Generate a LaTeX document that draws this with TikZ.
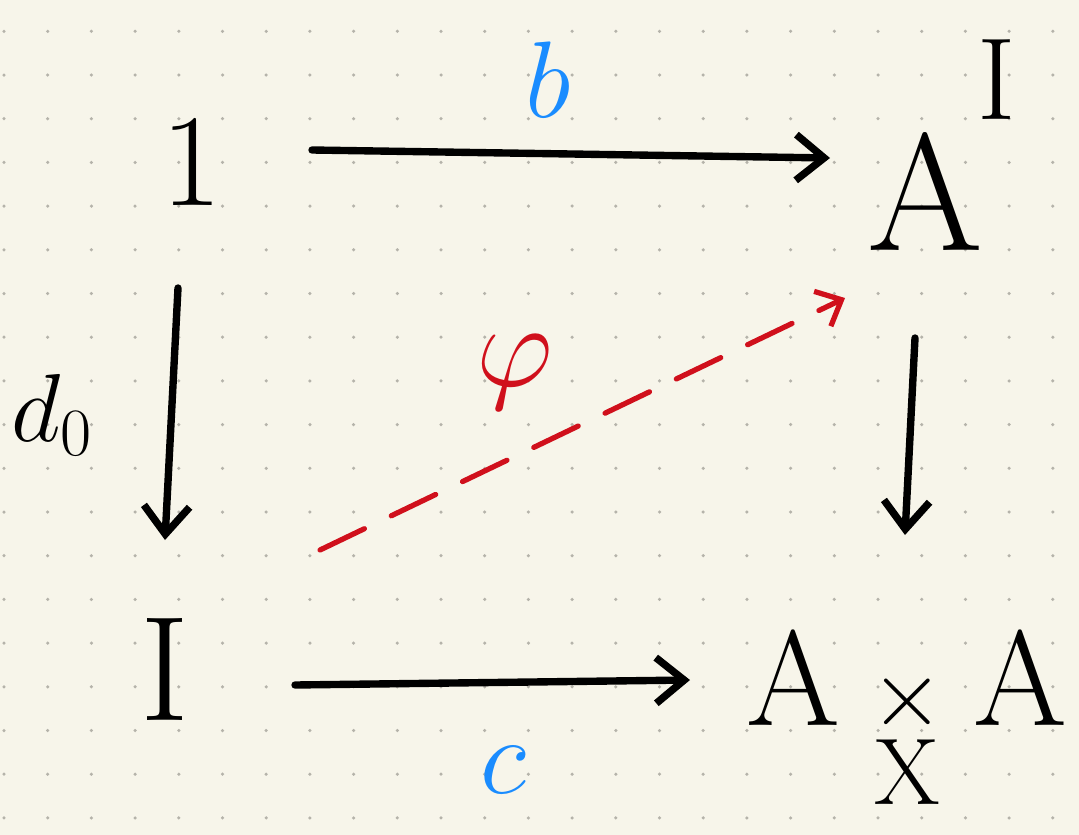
\documentclass[tikz,border=0pt]{standalone}
\usepackage{fix-cm}
\usepackage{amsmath}
\usetikzlibrary{arrows.meta,calc}
\definecolor{paper}{HTML}{F7F5EA}
\definecolor{dotc}{HTML}{B5B3AA}
\definecolor{lblue}{HTML}{1A8CFF}
\definecolor{lred}{HTML}{D0101C}
\begin{document}
\begin{tikzpicture}[x=0.02cm,y=-0.02cm,
  obj/.style={inner sep=0pt, anchor=base, font=\fontsize{85}{90}\selectfont},
  lbl/.style={inner sep=0pt, font=\fontsize{62}{66}\selectfont},
  arr/.style={line width=4.2pt, line cap=round, -{Straight Barb[length=16pt,width=26pt,line width=4.2pt]}},
  phiarr/.style={line width=3pt, line cap=round, lred, dash pattern=on 28pt off 17pt, -{Straight Barb[length=12pt,width=22pt,line width=3pt]}}
]
\fill[paper] (0,0) rectangle (1079,835);
\useasboundingbox (0,0) rectangle (1079,835);
\foreach \i in {0,...,24} \foreach \j in {0,...,18}
  \fill[dotc] (4+43.7*\i,31.3+43.7*\j) circle[radius=0.035cm];
\node[obj, font=\fontsize{75}{80}\selectfont] (one) at (192,205) {$1$};
\node[obj, font=\fontsize{95}{100}\selectfont] (AI) at (942,250) {$\mathrm{A}^{\mkern-1mu\raisebox{0.42em}{$\scriptstyle\mathrm{I}$}}$};
\node[obj] (I) at (165,720) {$\mathrm{I}$};
\node[obj, font=\fontsize{77}{82}\selectfont] (P) at (907,725) {$\mathrm{A}\mkern4mu\underset{\mathrm{X}}{\scriptstyle\times}\mkern4mu\mathrm{A}$};
\draw[arr] ($(one.base)+(120,-55)$) -- ($(AI.base)+(-112,-92)$);
\draw[arr] ($(one.base)+(-14,83)$) -- ($(I.base)+(0,-180)$);
\draw[arr] ($(AI.base)+(-27,88)$) -- ($(P.base)+(-2,-190)$);
\draw[arr] ($(I.base)+(130,-35)$) -- ($(P.base)+(-217,-45)$);
\draw[phiarr] ($(I.base)+(155,-170)$) -- ($(AI.base)+(-97,48)$);
\node[lbl,lblue] (b) at (548,80) {$b$};
\node[lbl,lblue] (c) at (503,770) {$c$};
\node[lbl, font=\fontsize{55}{60}\selectfont] (d) at (52,415) {$d_0$};
\node[lbl,lred, font=\fontsize{68}{72}\selectfont] (phi) at (515,372) {$\varphi$};
\end{tikzpicture}
\end{document}
